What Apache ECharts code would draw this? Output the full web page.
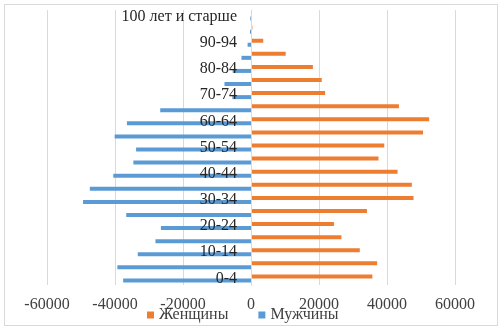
<!DOCTYPE html>
<html>
<head>
<meta charset="utf-8">
<script src="https://cdn.jsdelivr.net/npm/echarts@6/dist/echarts.min.js"></script>
<style>
  html, body { margin: 0; padding: 0; background: #fff; }
  #chart { width: 501px; height: 330px; }
  .frame { position: absolute; left: 4px; top: 4px; width: 492px; height: 320px; border: 1px solid #d9d9d9; pointer-events: none; }
</style>
</head>
<body>
<div id="chart"></div>
<div class="frame"></div>
<script>
// возрастные группы
const ageGroups = ['0-4', '5-9', '10-14', '15-19', '20-24', '25-29', '30-34', '35-39', '40-44', '45-49',
  '50-54', '55-59', '60-64', '65-69', '70-74', '75-79', '80-84', '85-89', '90-94', '95-99', '100 лет и старше']
const women = [35700, 37100, 32000, 26600, 24400, 34100, 47800, 47300, 43100, 37500,
  39200, 50600, 52400, 43500, 21800, 20800, 18200, 10200, 3600, 400, 100]
const men = [-37600, -39300, -33300, -28100, -26500, -36700, -49400, -47400, -40500, -34600,
  -33800, -40100, -36500, -26700, -5500, -7800, -5400, -2800, -1000, -300, -200]
const xTicks = { min: -60000, max: 60000, interval: 20000 }

const font = 'Liberation Serif'
const gridLeft = 47
const gridWidth = 408
const chart = echarts.init(document.getElementById('chart'))
const option = {
  color: ['#ED7D31', '#5B9BD5'],
  textStyle: { fontFamily: font },
  animation: false,
  grid: {
    top: 10,
    bottom: 45,
    left: gridLeft,
    width: gridWidth,
    containLabel: false,
    outerBoundsMode: 'none'
  },
  legend: {
    bottom: 2,
    left: 142,
    itemWidth: 7,
    itemHeight: 7,
    itemGap: 30,
    icon: 'rect',
    textStyle: { fontFamily: font, fontSize: 16, color: '#404040' },
    data: ['Женщины', 'Мужчины']
  },
  xAxis: {
    type: 'value',
    min: xTicks.min,
    max: xTicks.max,
    interval: xTicks.interval,
    axisLine: { show: false },
    axisTick: { show: false },
    axisLabel: { fontFamily: font, fontSize: 16, color: '#404040', margin: 12, formatter: v => String(v) },
    splitLine: { lineStyle: { color: '#d9d9d9' } }
  },
  yAxis: {
    type: 'category',
    data: ageGroups,
    z: 5,
    // ось у нуля (середина шкалы)
    offset: -gridWidth / 2,
    axisLine: { onZero: false, lineStyle: { color: '#d9d9d9' } },
    axisTick: { show: false },
    axisLabel: { interval: 1, fontFamily: font, fontSize: 16, color: '#262626', margin: 14 },
    splitLine: { show: false }
  },
  series: [
    {
      name: 'Женщины',
      type: 'bar',
      barWidth: 4,
      barGap: '0%',
      data: women
    },
    {
      name: 'Мужчины',
      type: 'bar',
      barWidth: 4,
      barGap: '0%',
      data: men
    }
  ]
}
chart.setOption(option)
</script>
</body>
</html>
